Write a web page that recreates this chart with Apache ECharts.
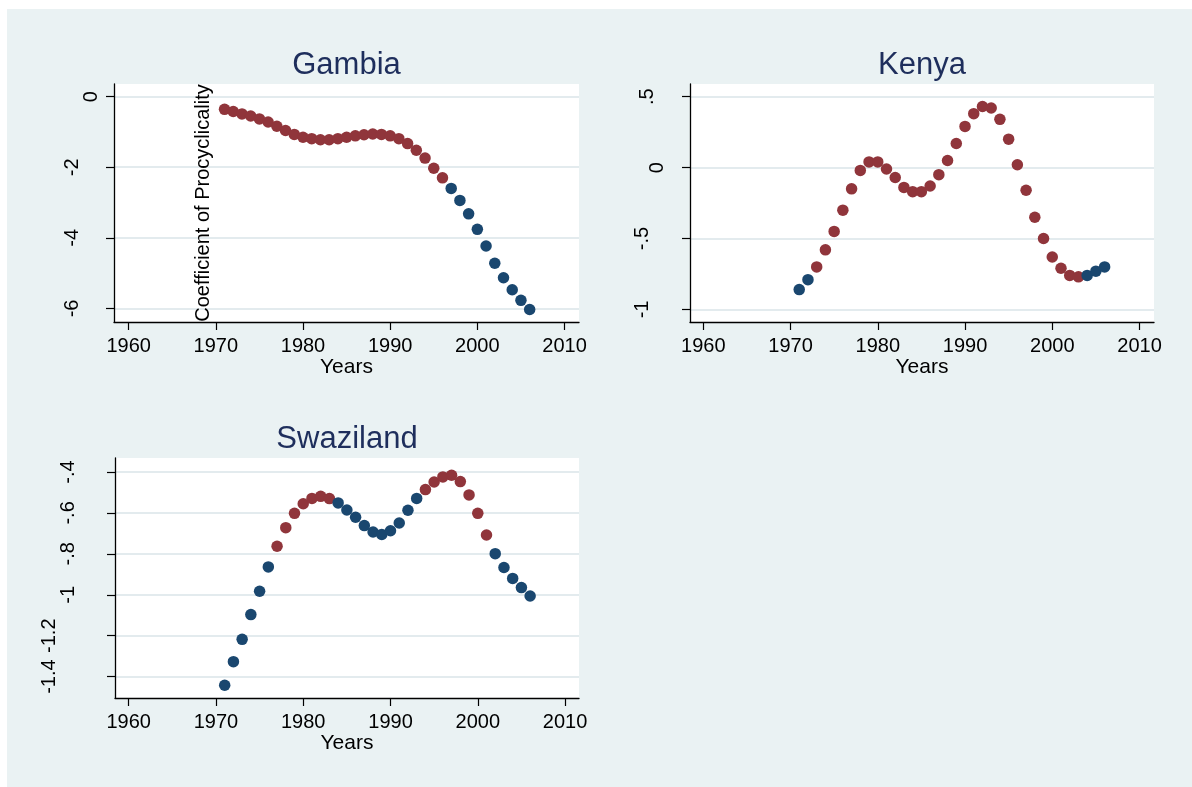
<!DOCTYPE html>
<html>
<head>
<meta charset="utf-8">
<script src="https://cdn.jsdelivr.net/npm/echarts@6/dist/echarts.min.js"></script>
<style>
html,body{margin:0;padding:0;background:#fff;}
#c{width:1192px;height:787px;background:linear-gradient(#eaf2f3,#eaf2f3) 7px 9px/1185px 778px no-repeat,#fff;}
</style>
</head>
<body>
<div id="c"></div>
<script>
// ---------------- data ----------------
const years = [1971,1972,1973,1974,1975,1976,1977,1978,1979,1980,
               1981,1982,1983,1984,1985,1986,1987,1988,1989,1990,
               1991,1992,1993,1994,1995,1996,1997,1998,1999,2000,
               2001,2002,2003,2004,2005,2006];

const gambiaValues = [-0.36,-0.42,-0.49,-0.55,-0.63,-0.72,-0.84,-0.96,-1.07,-1.15,
                      -1.19,-1.22,-1.22,-1.19,-1.15,-1.11,-1.08,-1.06,-1.07,-1.11,
                      -1.19,-1.33,-1.52,-1.74,-2.03,-2.30,-2.60,-2.94,-3.32,-3.76,
                      -4.23,-4.72,-5.13,-5.47,-5.77,-6.03];
// 1 = maroon marker, 0 = navy marker
const gambiaFlags = [1,1,1,1,1,1,1,1,1,1, 1,1,1,1,1,1,1,1,1,1, 1,1,1,1,1,1,0,0,0,0, 0,0,0,0,0,0];

const kenyaValues = [-0.86,-0.79,-0.70,-0.58,-0.45,-0.30,-0.15,-0.02,0.04,0.04,
                     -0.01,-0.07,-0.14,-0.17,-0.17,-0.13,-0.05,0.05,0.17,0.29,
                     0.38,0.43,0.42,0.34,0.20,0.02,-0.16,-0.35,-0.50,-0.63,
                     -0.71,-0.76,-0.77,-0.76,-0.73,-0.70];
const kenyaFlags = [0,0,1,1,1,1,1,1,1,1, 1,1,1,1,1,1,1,1,1,1, 1,1,1,1,1,1,1,1,1,1, 1,1,1,0,0,0];

const swazilandValues = [-1.442,-1.327,-1.218,-1.097,-0.983,-0.864,-0.763,-0.672,-0.602,-0.555,
                         -0.529,-0.519,-0.530,-0.551,-0.586,-0.621,-0.662,-0.693,-0.705,-0.687,
                         -0.649,-0.587,-0.529,-0.486,-0.449,-0.424,-0.416,-0.447,-0.512,-0.602,
                         -0.708,-0.799,-0.867,-0.920,-0.965,-1.006];
const swazilandFlags = [0,0,0,0,0,0,1,1,1,1, 1,1,1,0,0,0,0,0,0,0, 0,0,0,1,1,1,1,1,1,1, 1,0,0,0,0,0];

const xTicks = [1960,1970,1980,1990,2000,2010];
const gambiaTicks = [0,-2,-4,-6];
const kenyaTicks = [0.5,0,-0.5,-1];
const swazilandTicks = [-0.4,-0.6,-0.8,-1,-1.2,-1.4];

const panelTitles = ['Gambia','Kenya','Swaziland'];
const xTitle = 'Years';
const yTitle = 'Coefficient of Procyclicality';

// ---------------- layout / style ----------------
const FONT = "'Liberation Sans', Arial, Helvetica, sans-serif";
const MAROON = '#90353b';
const NAVY = '#1a476f';
const TITLE_COLOR = '#1e2e5c';
const GRID_COLOR = '#e3ebee';

const panels = [
  {title: panelTitles[0], values: gambiaValues, flags: gambiaFlags, ticks: gambiaTicks,
   grid: {left: 114, top: 84, width: 465, height: 238}, yMin: -6.384, yMax: 0.358,
   xMin: 1958.32, xMax: 2011.66, titlePos: [346.5, 65],
   labelMargin: function (s) { return s === '0' ? 13 : 32; }},
  {title: panelTitles[1], values: kenyaValues, flags: kenyaFlags, ticks: kenyaTicks,
   grid: {left: 690, top: 84, width: 464, height: 238}, yMin: -1.0885, yMax: 0.589,
   xMin: 1958.48, xMax: 2011.66, titlePos: [922, 65],
   labelMargin: function (s) { return s === '0' ? 23 : (s === '.5' ? 33 : 38); }},
  {title: panelTitles[2], values: swazilandValues, flags: swazilandFlags, ticks: swazilandTicks,
   grid: {left: 115, top: 458, width: 464, height: 240}, yMin: -1.5046, yMax: -0.3316,
   xMin: 1958.43, xMax: 2011.6, titlePos: [347, 439],
   labelMargin: function (s) { return (s === '-1.2' || s === '-1.4') ? 56 : 37; }}
];

function fmt(v) {
  const r = Math.round(v * 1000) / 1000;
  return String(r).replace(/^(-?)0\./, '$1.');
}

const grids = [], xAxes = [], yAxes = [], series = [], graphics = [];

panels.forEach(function (p, pi) {
  grids.push(Object.assign({show: true, backgroundColor: '#ffffff', borderWidth: 0, containLabel: false}, p.grid));

  xAxes.push({
    type: 'value', gridIndex: pi, min: p.xMin, max: p.xMax, position: 'bottom',
    axisLine: {show: true, onZero: false, lineStyle: {color: '#000', width: 1.3}},
    axisTick: {show: true, customValues: xTicks, length: 8, lineStyle: {color: '#000', width: 1.2}},
    axisLabel: {customValues: xTicks, margin: 14, fontSize: 20, color: '#000', fontFamily: FONT,
                formatter: function (v) { return String(v); }},
    splitLine: {show: false},
    name: xTitle, nameLocation: 'middle', nameGap: 35,
    nameTextStyle: {fontSize: 21, color: '#000', fontFamily: FONT}
  });

  // group tick labels by their distance from the axis
  const groups = {};
  const order = [];
  p.ticks.forEach(function (t) {
    const m = p.labelMargin(fmt(t));
    if (!groups[m]) { groups[m] = []; order.push(m); }
    groups[m].push(t);
  });

  const mainIndex = yAxes.length;
  order.forEach(function (m, gi) {
    const isMain = gi === 0;
    yAxes.push({
      type: 'value', gridIndex: pi, min: p.yMin, max: p.yMax, position: 'left',
      axisLine: {show: isMain, onZero: false, lineStyle: {color: '#000', width: 1.3}},
      axisTick: isMain ? {show: true, customValues: p.ticks, length: 8, lineStyle: {color: '#000', width: 1.2}}
                       : {show: false},
      splitLine: isMain ? {show: true, lineStyle: {color: GRID_COLOR, width: 2}} : {show: false},
      axisLabel: {customValues: groups[m], rotate: 90, margin: m, fontSize: 20, color: '#000',
                  fontFamily: FONT, formatter: function (v) { return fmt(v); }}
    });
  });

  const maroon = [], navy = [];
  years.forEach(function (y, i) {
    (p.flags[i] ? maroon : navy).push([y, p.values[i]]);
  });
  [[maroon, MAROON, 2], [navy, NAVY, 3]].forEach(function (s) {
    series.push({
      type: 'scatter', xAxisIndex: pi, yAxisIndex: mainIndex, data: s[0],
      symbol: 'circle', symbolSize: 11.5, z: s[2],
      itemStyle: {color: s[1], opacity: 1}, emphasis: {disabled: true}
    });
  });

  graphics.push({
    type: 'text', x: p.titlePos[0], y: p.titlePos[1], z: 10,
    style: {text: p.title, fontSize: 31, fontFamily: FONT, fill: TITLE_COLOR, align: 'center', verticalAlign: 'middle'}
  });
});

graphics.push({
  type: 'text', x: 203, y: 203, rotation: Math.PI / 2, z: 10,
  style: {text: yTitle, fontSize: 20, fontFamily: FONT, fill: '#000', align: 'center', verticalAlign: 'middle'}
});

const chart = echarts.init(document.getElementById('c'), null, {renderer: 'canvas'});
chart.setOption({
  backgroundColor: 'transparent',
  animation: false,
  grid: grids,
  xAxis: xAxes,
  yAxis: yAxes,
  series: series,
  graphic: graphics
});
</script>
</body>
</html>
